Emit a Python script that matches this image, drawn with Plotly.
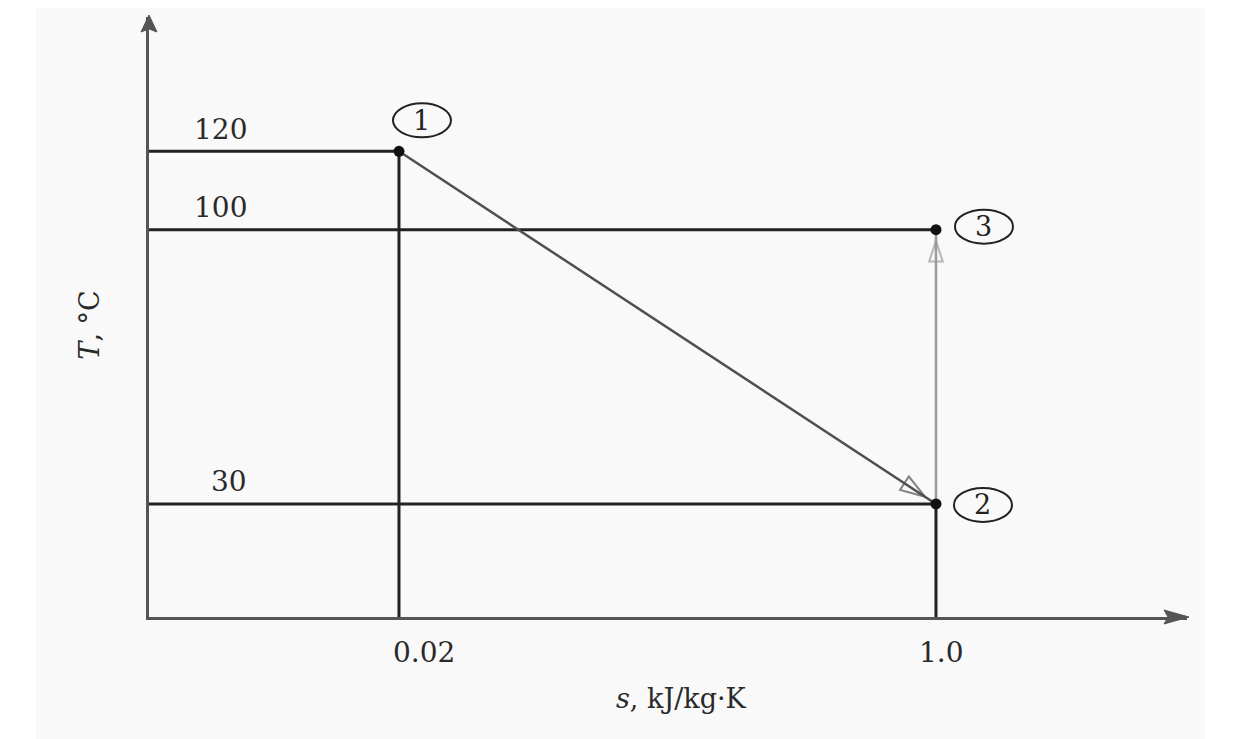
import plotly.graph_objects as go

# ---------------- data ----------------
states = ["1", "2", "3"]
s_values = [0.02, 1.0, 1.0]        # entropy, kJ/kg·K
T_values = [120, 30, 100]          # temperature, °C
s_tick_values = [0.02, 1.0]
s_tick_labels = ["0.02", "1.0"]
T_tick_values = [120, 100, 30]
T_tick_labels = ["120", "100", "30"]
processes = [(0, 1), (1, 2)]       # 1 -> 2, 2 -> 3

# ---------------- layout / style ----------------
S_MIN, S_MAX = -0.4362, 1.4581
T_MIN, T_MAX = 1.15, 154.28
GUIDE = "#222222"
AXIS = "#555555"
FONT = "DejaVu Serif"
TXT = "#2a2a2a"
proc_colors = ["#4f4f4f", "#9a9a9a"]
proc_standoff = [13, 11]
proc_head = [26, 22]
label_offsets = [(23, 31), (47, -1), (48, 3)]   # pixel offsets of circled labels
s_label_shift = [25, 6]

fig = go.Figure()

# guide lines: horizontal from T axis to each state
for s, T in zip(s_values, T_values):
    fig.add_trace(go.Scatter(x=[S_MIN, s], y=[T, T], mode="lines",
                             line=dict(color=GUIDE, width=3),
                             hoverinfo="skip", showlegend=False))
# vertical lines from s axis to lowest state at each s
for s in sorted(set(s_values)):
    tmin = min(T for ss, T in zip(s_values, T_values) if ss == s)
    fig.add_trace(go.Scatter(x=[s, s], y=[T_MIN, tmin], mode="lines",
                             line=dict(color=GUIDE, width=3),
                             hoverinfo="skip", showlegend=False))

# process arrows
for (a, b), color, std, hs in zip(processes, proc_colors, proc_standoff, proc_head):
    fig.add_trace(go.Scatter(
        x=[s_values[a], s_values[b]], y=[T_values[a], T_values[b]],
        mode="lines+markers",
        line=dict(color=color, width=2.5),
        marker=dict(symbol=["circle", "arrow-open"], size=[0, hs],
                    angleref="previous", standoff=[0, std],
                    color=color, line=dict(color=color, width=2)),
        hoverinfo="skip", showlegend=False))

# state points
fig.add_trace(go.Scatter(x=s_values, y=T_values, mode="markers",
                         marker=dict(color="#111111", size=11),
                         cliponaxis=False, hoverinfo="skip", showlegend=False))

shapes = []
annotations = []

# background panel (scanned page tone)
shapes.append(dict(type="rect", xref="paper", yref="paper", layer="below",
                   x0=-0.1089, x1=1.0173, y0=-0.23, y1=1.03,
                   fillcolor="#f9f9f9", line=dict(width=0)))

# circled state labels
for st, s, T, (dx, dy) in zip(states, s_values, T_values, label_offsets):
    shapes.append(dict(type="circle", xref="x", yref="y",
                       xsizemode="pixel", ysizemode="pixel",
                       xanchor=s, yanchor=T,
                       x0=dx - 29, x1=dx + 29, y0=dy - 17, y1=dy + 17,
                       line=dict(color="#222222", width=2)))
    annotations.append(dict(x=s, y=T, xref="x", yref="y", text=st,
                            showarrow=False, xshift=dx, yshift=dy,
                            font=dict(family=FONT, size=27, color="#222222")))

# axis arrowheads
shapes.append(dict(type="path", xref="paper", yref="paper",
                   xsizemode="pixel", ysizemode="pixel", xanchor=1, yanchor=0,
                   path="M2,0 L-23,7 L-19,0 L-23,-7 Z",
                   fillcolor=AXIS, line=dict(color=AXIS, width=1)))
shapes.append(dict(type="path", xref="paper", yref="paper",
                   xsizemode="pixel", ysizemode="pixel", xanchor=0, yanchor=1,
                   path="M0,2 L-8,-15 L0,-12 L8,-15 Z",
                   fillcolor=AXIS, line=dict(color=AXIS, width=1)))

# T labels above horizontal lines
for T, lab in zip(T_tick_values, T_tick_labels):
    annotations.append(dict(x=S_MIN, y=T, xref="x", yref="y", text=lab,
                            showarrow=False, xanchor="right", yanchor="middle",
                            xshift=100, yshift=22,
                            font=dict(family=FONT, size=28, color=TXT)))
# s labels under axis
for s, lab, xs in zip(s_tick_values, s_tick_labels, s_label_shift):
    annotations.append(dict(x=s, y=T_MIN, xref="x", yref="y", text=lab,
                            showarrow=False, xanchor="center", yanchor="middle",
                            xshift=xs, yshift=-35,
                            font=dict(family=FONT, size=28, color=TXT)))

# axis titles
annotations.append(dict(x=0.513, y=-0.135, xref="paper", yref="paper",
                        xanchor="center", yanchor="middle",
                        text="<i>s</i>, kJ/kg·K", showarrow=False,
                        font=dict(family=FONT, size=27, color=TXT)))
annotations.append(dict(x=-0.057, y=0.487, xref="paper", yref="paper",
                        xanchor="center", yanchor="middle",
                        text="<i>T</i>, °C", showarrow=False, textangle=-90,
                        font=dict(family=FONT, size=27, color=TXT)))

# the page places the figure 8 px in from the top-left corner
fig.update_layout(
    width=1234, height=731,
    margin=dict(l=141, r=55, t=9, b=122),
    paper_bgcolor="white", plot_bgcolor="rgba(0,0,0,0)",
    xaxis=dict(range=[S_MIN, S_MAX], showgrid=False, zeroline=False,
               showticklabels=False, ticks="", showline=True,
               linecolor=AXIS, linewidth=3, fixedrange=True),
    yaxis=dict(range=[T_MIN, T_MAX], showgrid=False, zeroline=False,
               showticklabels=False, ticks="", showline=True,
               linecolor=AXIS, linewidth=3, fixedrange=True),
    shapes=shapes, annotations=annotations, showlegend=False,
)

fig.write_html("out.html")
